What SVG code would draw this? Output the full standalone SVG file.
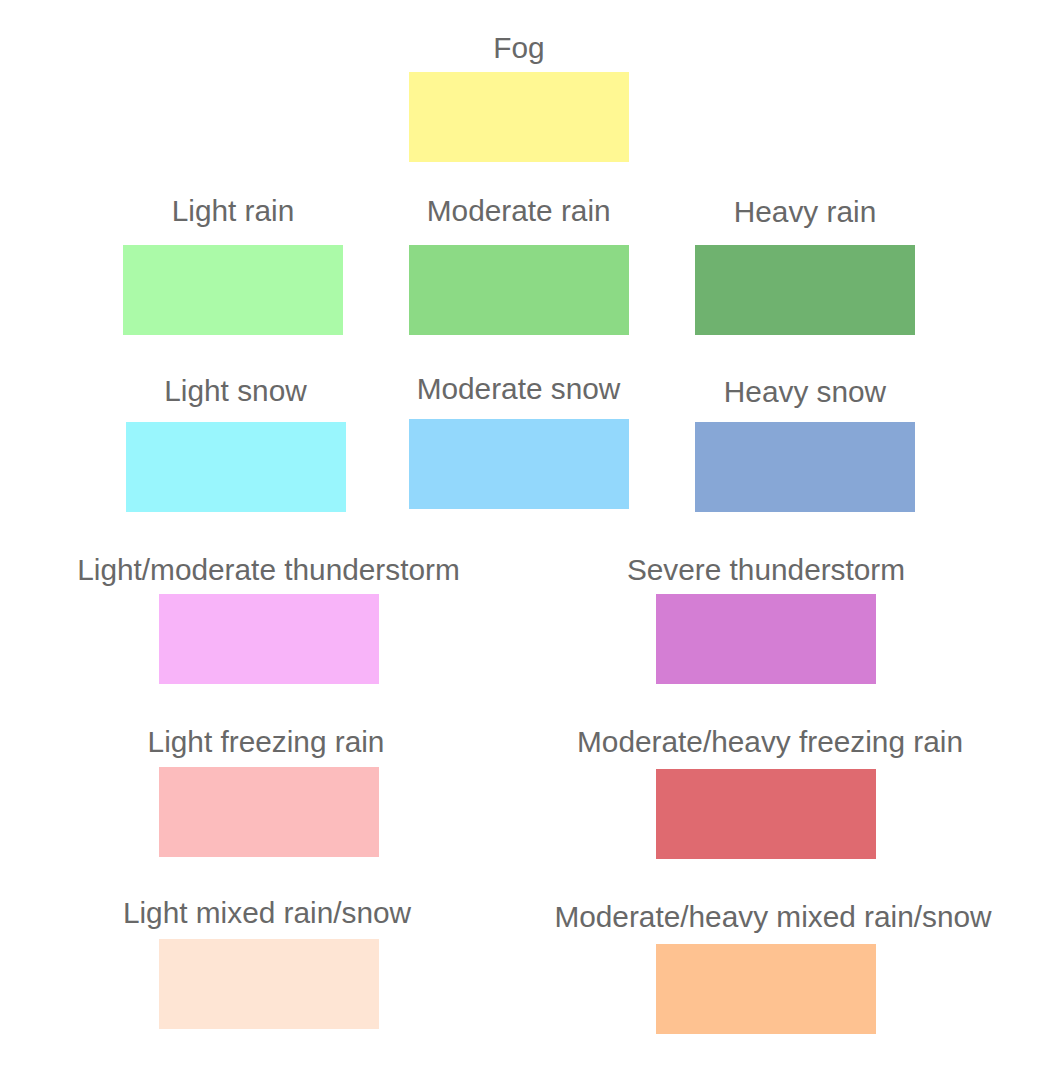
<svg xmlns="http://www.w3.org/2000/svg" width="1037" height="1089" viewBox="0 0 1037 1089">
<style>
text{font-family:"Liberation Sans",Arial,Helvetica,sans-serif;font-size:29.8px;fill:#686868;text-anchor:middle}
</style>
<rect width="1037" height="1089" fill="#fff"/>
<g id="fog"><text x="519" y="57.5">Fog</text><rect x="409" y="72" width="220" height="90" fill="#fff893"/></g>
<g id="light-rain"><text x="233" y="220.5">Light rain</text><rect x="123" y="245" width="220" height="90" fill="#abfaa8"/></g>
<g id="moderate-rain"><text x="518.7" y="220.5">Moderate rain</text><rect x="409" y="245" width="220" height="90" fill="#8cda85"/></g>
<g id="heavy-rain"><text x="805" y="221.5">Heavy rain</text><rect x="695" y="245" width="220" height="90" fill="#6fb26f"/></g>
<g id="light-snow"><text x="235.5" y="400.5">Light snow</text><rect x="126" y="422" width="220" height="90" fill="#99f6fd"/></g>
<g id="moderate-snow"><text x="518.5" y="398.5">Moderate snow</text><rect x="409" y="419" width="220" height="90" fill="#93d8fc"/></g>
<g id="heavy-snow"><text x="805" y="401.5">Heavy snow</text><rect x="695" y="422" width="220" height="90" fill="#87a7d6"/></g>
<g id="light-thunderstorm"><text x="268.5" y="580">Light/moderate thunderstorm</text><rect x="159" y="594" width="220" height="90" fill="#f8b4f9"/></g>
<g id="severe-thunderstorm"><text x="766" y="580">Severe thunderstorm</text><rect x="656" y="594" width="220" height="90" fill="#d47ed4"/></g>
<g id="light-freezing-rain"><text x="266" y="751.5">Light freezing rain</text><rect x="159" y="767" width="220" height="90" fill="#fcbcbd"/></g>
<g id="heavy-freezing-rain"><text x="770" y="751.5">Moderate/heavy freezing rain</text><rect x="656" y="769" width="220" height="90" fill="#df6a70"/></g>
<g id="light-mixed"><text x="267" y="922.5">Light mixed rain/snow</text><rect x="159" y="939" width="220" height="90" fill="#fee5d4"/></g>
<g id="heavy-mixed"><text x="773" y="927">Moderate/heavy mixed rain/snow</text><rect x="656" y="944" width="220" height="90" fill="#fec291"/></g>
<g id="connectors"/>
</svg>
